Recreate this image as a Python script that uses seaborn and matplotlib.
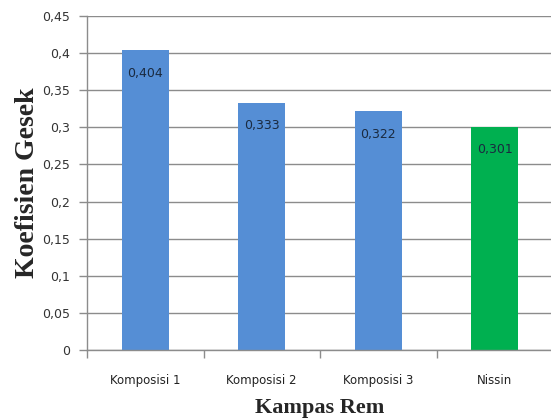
import matplotlib
matplotlib.use("Agg")
import matplotlib.pyplot as plt
import seaborn as sns
import pandas as pd
from matplotlib.ticker import MultipleLocator, FuncFormatter, FixedLocator

categories = ["Komposisi 1", "Komposisi 2", "Komposisi 3", "Nissin"]
values = [0.404, 0.333, 0.322, 0.301]
value_labels = ["0,404", "0,333", "0,322", "0,301"]
colors = ["#558ED5", "#558ED5", "#558ED5", "#00B050"]

df = pd.DataFrame({"cat": categories, "val": values})

sns.set_theme(style="white")
fig = plt.figure(figsize=(5.51, 4.20), dpi=100)
ax = fig.add_axes([87/551, 70/420, 466/551, 334/420])

sns.barplot(data=df, x="cat", y="val", hue="cat", palette=colors, width=0.4,
            legend=False, ax=ax, saturation=1, linewidth=0, edgecolor="none")

ax.set_ylim(0, 0.45)
ax.set_xlim(-0.5, 3.5)
ax.yaxis.set_major_locator(MultipleLocator(0.05))
def fmt(v, pos):
    s = f"{v:.2f}".rstrip("0").rstrip(".")
    return s.replace(".", ",")
ax.yaxis.set_major_formatter(FuncFormatter(fmt))
ax.grid(axis="y", color="#8c8c8c", linewidth=1)
ax.set_axisbelow(True)

for s in ["top", "right"]:
    ax.spines[s].set_visible(False)
for s in ["left", "bottom"]:
    ax.spines[s].set_color("#8c8c8c")
    ax.spines[s].set_linewidth(1)

ax.tick_params(axis="y", which="major", length=6, color="#8c8c8c", width=1,
               labelsize=9, labelcolor="#333333", pad=6, left=True)
ax.xaxis.set_minor_locator(FixedLocator([-0.5, 0.5, 1.5, 2.5, 3.5]))
ax.tick_params(axis="x", which="major", length=0, labelsize=8.5, labelcolor="#222222", pad=17)
ax.tick_params(axis="x", which="minor", length=6, color="#8c8c8c", width=1, bottom=True)

for i, (v, lab) in enumerate(zip(values, value_labels)):
    ax.text(i, v - 0.031, lab, ha="center", va="center", fontsize=9, color="#1a2a40")

ax.set_xlabel("Kampas Rem", family="Liberation Serif", fontweight="bold", fontsize=16, labelpad=8)
ax.set_ylabel("Koefisien Gesek", family="Liberation Serif", fontweight="bold", fontsize=20, labelpad=2)

fig.savefig("out.png", dpi=100)
